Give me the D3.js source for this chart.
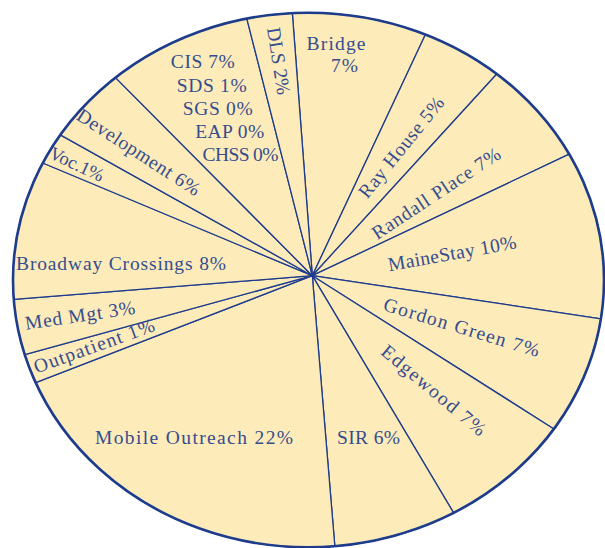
<!DOCTYPE html>
<html><head><meta charset="utf-8">
<script src="https://cdn.jsdelivr.net/npm/d3@7"></script>
<style>html,body{margin:0;padding:0;background:#fff;} svg{display:block}</style>
</head><body>
<svg id="chart" width="605" height="548"></svg>
<script>
// ---- data ----
const categories = ["Bridge","Ray House","Randall Place","MaineStay","Gordon Green","Edgewood","SIR","Mobile Outreach","Outpatient","Med Mgt","Broadway Crossings","Voc.","Development","CIS group","DLS"];
// wedge sizes (percent of the pie)
const sliceShares = [8.19,4.81,6.18,9.39,6.64,7.45,7.23,20.45,1.61,3.01,7.56,1.81,4.44,8.48,2.76];
// printed percentages
const printedPercents = [7,5,7,10,7,7,6,22,1,3,8,1,6,null,2];
// programs sharing the single unsplit wedge
const groupMembers = ["CIS","SDS","SGS","EAP","CHSS"];
const groupPercents = [7,1,0,0,0];

// ---- layout (not data) ----
const W = 605, H = 548;
const ell = {cx: 308.5, cy: 280, rx: 295.5, ry: 267.3};
const hub = {x: 312.3, y: 275.7};
const startDeg = -4.35;
const FILL = "#fdebba", LINE = "#1e3c8c", TEXT = "#354d8e";

const labelLayout = [
  [{x:336,y:50,w:59},{x:344.5,y:72,w:27}],
  [{x:401,y:147,r:-51,w:124,mid:1}],
  [{x:436,y:193,r:-33.6,w:150,mid:1}],
  [{x:452,y:253,r:-10.2,w:130,mid:1}],
  [{x:461.7,y:327,r:16.9,w:162,mid:1}],
  [{x:434,y:390,r:40,w:130,mid:1}],
  [{x:368.5,y:444,w:63}],
  [{x:194,y:444,w:198}],
  [{x:94,y:345.6,r:-19.8,w:127,mid:1}],
  [{x:80,y:315,r:-8.4,w:111,mid:1}],
  [{x:121,y:270,w:210}],
  [{x:77,y:164,r:25,w:58,mid:1,fs:18.5}],
  [{x:139,y:152,r:33,w:143,mid:1}],
  [{x:202.8,y:68.3,w:64},{x:211.7,y:91.7,w:70},{x:217.7,y:115,w:70},{x:229.7,y:138,w:69},{x:240.5,y:161,w:76}],
  [{x:279,y:61,r:81,w:68,mid:1}]
];

function fmt(name, p){ return name.endsWith(".") ? name + p + "%" : name + " " + p + "%"; }
const labelLines = categories.map((c,i) => {
  if (i === 13) return groupMembers.map((m,k) => fmt(m, groupPercents[k]));
  if (c === "Bridge") return [c, printedPercents[i] + "%"];
  return [fmt(c, printedPercents[i])];
});

// ---- drawing ----
const svg = d3.select("#chart");
const pie = d3.pie().sort(null).value(d => d)
  .startAngle(startDeg*Math.PI/180).endAngle(startDeg*Math.PI/180 + 2*Math.PI);
const arcs = pie(sliceShares);

function edgePoint(a){
  const ux = Math.sin(a)/ell.rx, uy = -Math.cos(a)/ell.ry;
  const px = (hub.x-ell.cx)/ell.rx, py = (hub.y-ell.cy)/ell.ry;
  const A = ux*ux+uy*uy, B = px*ux+py*uy, Cc = px*px+py*py-1;
  const t = (-B + Math.sqrt(B*B - A*Cc))/A;
  return [hub.x + t*Math.sin(a), hub.y - t*Math.cos(a)];
}
function wedge(d){
  const pts = [[hub.x,hub.y]];
  const n = Math.max(2, Math.ceil((d.endAngle-d.startAngle)/0.01));
  for (let k=0;k<=n;k++) pts.push(edgePoint(d.startAngle + (d.endAngle-d.startAngle)*k/n));
  return d3.line()(pts) + "Z";
}

svg.append("g").selectAll("path").data(arcs).join("path")
  .attr("d", wedge).attr("fill", FILL)
  .attr("stroke", LINE).attr("stroke-width", 1.3).attr("stroke-linejoin","round");

svg.append("ellipse").attr("cx",ell.cx).attr("cy",ell.cy).attr("rx",ell.rx).attr("ry",ell.ry)
  .attr("fill","none").attr("stroke",LINE).attr("stroke-width",2.6);

const lg = svg.append("g").attr("font-family","'Liberation Serif','DejaVu Serif',serif")
  .attr("font-size",19.5).attr("fill",TEXT).attr("text-anchor","middle");
labelLines.forEach((lines,i) => {
  lines.forEach((txt,k) => {
    const L = labelLayout[i][k];
    lg.append("text")
      .attr("transform", `translate(${L.x},${L.y}) rotate(${L.r||0})`)
      .attr("dy", L.mid ? "0.35em" : null)
      .attr("font-size", L.fs || null)
      .attr("textLength", L.w).attr("lengthAdjust","spacing")
      .text(txt);
  });
});
</script>
</body></html>
